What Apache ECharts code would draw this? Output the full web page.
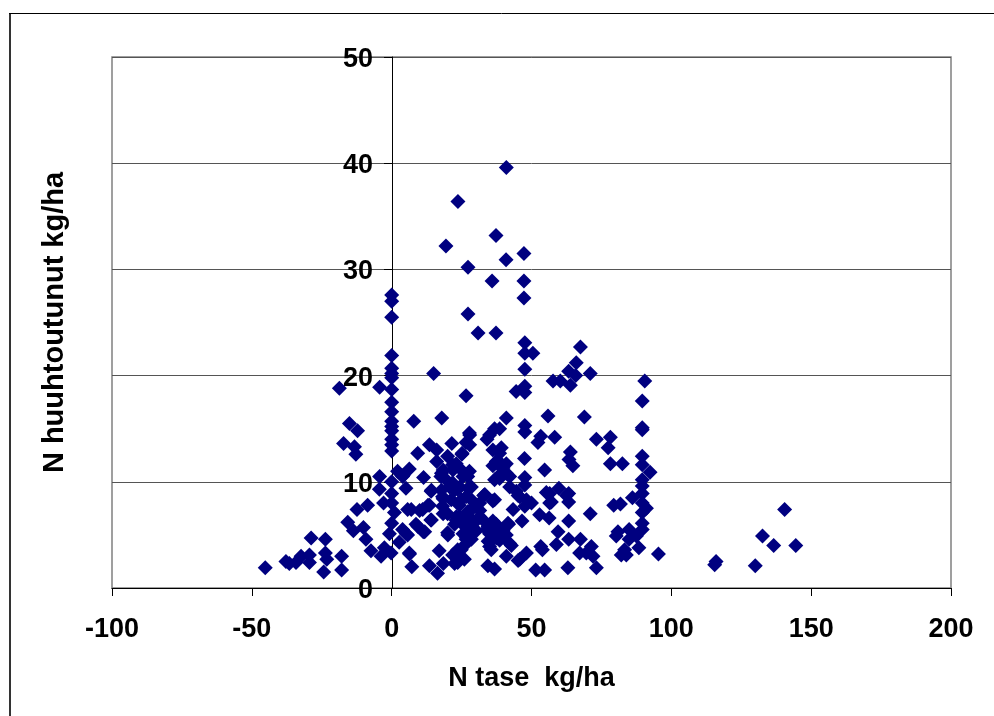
<!DOCTYPE html>
<html>
<head>
<meta charset="utf-8">
<style>html,body{margin:0;padding:0;background:#fff}#c{width:994px;height:716px}</style>
<script src="https://cdn.jsdelivr.net/npm/echarts@6/dist/echarts.min.js"></script>
</head>
<body>
<div id="c"></div>
<script>
const xTitle = 'N tase  kg/ha';
const yTitle = 'N huuhtoutunut kg/ha';
const pointColor = '#000080';
// [N tase, N huuhtoutunut]
const negativeBalance = [[-45.2,1.9],[-37.8,2.5],[-36.6,2.3],[-34.2,2.4],[-32.4,3],[-29.4,3.1],[-29.4,2.4],[-28.8,4.7],[-24.3,1.5],[-23.7,4.6],[-23.7,3.3],[-23.2,2.7],[-18.7,18.8],[-17.9,3],[-17.9,1.7],[-17.2,13.6],[-15.7,6.2],[-15.1,15.5],[-13.7,5.4],[-13.3,13.3],[-12.8,12.6],[-12.4,7.4],[-12.2,14.8],[-10.1,5.7],[-9.2,4.6],[-8.6,7.8],[-7.4,3.5],[-4.4,9.3],[-4.3,18.9],[-4.3,10.5],[-3.8,3],[-2.9,8],[-2.6,3.8],[-0.8,5.1],[-0.2,3.3]];
const zeroBalance = [[0,27.6],[0,27],[0,25.5],[0,21.9],[0,20.7],[0,20.2],[0,19.8],[0,18.7],[0,17.5],[0,16.6],[0,15.7],[0,15.2],[0,14.8],[0,14],[0,13.5],[0,12.9],[0,10],[0,8.9],[0,8],[0,6.1]];
const lowBalance = [[1,7.1],[2.1,11],[2.7,4.3],[3.9,10.5],[3.9,5.5],[4.1,10.6],[5.1,9.4],[5.2,5.1],[5.7,7.4],[5.7,5],[6.3,11.2],[6.3,3.3],[6.4,3.2],[7,7.4],[7.2,2],[7.9,15.7],[8.7,6],[9.3,12.7],[9.4,5.8],[10,7.3],[11.1,7.4],[11.3,5.3],[11.4,10.4],[11.8,5.3],[13,7.8],[13.5,13.5],[13.5,7.8],[13.5,2.1],[14,6.4],[14.1,9.1],[14.2,9.2],[14.2,6.4],[15,20.2],[16.1,13],[16.1,11.9],[16.4,1.4],[17,3.5],[17.6,10.5],[17.8,10.8],[17.8,9.2],[17.9,16],[18.2,8.6],[18.2,7.7],[18.4,7],[18.4,11.1],[18.4,8.4],[18.5,2.3],[19.4,32.2],[19.5,10.2],[20,12.4],[20,7],[20,5.2],[20.1,5],[20.7,9.5],[21.3,8.3],[21.5,13.6],[21.8,11.6],[21.8,9.9],[21.8,3.1],[21.9,11.1],[22.5,9.2],[22.5,6],[22.5,2.3],[23,6.4],[23.1,11.7],[23.1,6.7],[23.6,9.3],[23.6,3.6],[23.6,2.4],[23.7,36.4],[23.7,3.2],[24.2,11.3],[24.2,7.8],[24.3,9.5],[24.3,6.7],[24.9,8.3],[24.9,3.6],[25.1,12.6],[25.2,12.7],[25.4,6],[25.5,10.5],[25.5,5.1],[26,2.7],[26.1,6],[26.6,18.1],[26.6,13.7],[26.6,8.6],[26.6,4.6],[26.7,4.8],[26.7,4.2],[27.2,10.5],[27.3,30.2],[27.3,25.8],[27.3,9.4],[27.3,7.2],[27.8,14.6],[27.8,11],[27.8,7.2],[27.8,5.5],[27.9,14.4],[27.9,13.5],[28.5,9.5],[28.5,8.3],[28.5,6.5],[28.5,4.6],[29.7,7.7],[29.7,6.2]];
const midBalance = [[30.3,5.4],[30.9,24],[31.5,8],[31.5,7.3],[31.5,6.7],[32.7,6.4],[32.9,8.7],[33.3,8.8],[33.9,5.5],[34.1,14],[34.4,2.1],[34.5,5.8],[34.5,4.4],[35,14.4],[35,5.1],[35,4.3],[35,3.9],[35.6,3.6],[35.9,28.9],[36.2,13],[36.2,11.5],[36.2,8.2],[36.2,6.3],[36.8,15],[36.8,10.2],[36.8,8.3],[36.8,1.8],[37.3,33.2],[37.3,24],[37.4,11.9],[37.4,6],[37.4,5.3],[37.4,4.7],[38,12],[38.6,15],[38.6,12.7],[38.6,11.5],[38.6,10.3],[38.6,4.5],[39.2,13.2],[39.2,10.8],[39.8,11.3],[39.8,5.4],[39.8,5.2],[41,39.6],[40.9,30.9],[41,16],[41,11.7],[41,10.8],[41,5],[41,3],[41.6,6.1],[41.8,6],[42.2,10.5],[42.2,9.5],[42.2,4.2],[42.8,4],[43.4,7.4],[44.5,18.5],[44.6,9.1],[45.2,8.7],[45.2,2.6],[45.8,8.6],[45.8,2.7],[46.6,6.3],[47.3,31.5],[47.3,28.9],[47.3,27.3],[47.6,23.1],[47.6,22.1],[47.6,20.6],[47.6,19],[47.6,18.4],[47.6,15.3],[47.6,14.7],[47.5,12.2],[47.6,10.4],[47.6,9.7],[47.6,7.7],[48.2,8.3],[48.2,3.3],[50,8],[50.5,22.1],[51.5,1.7],[52.3,13.7],[52.9,6.9],[53.3,14.3],[53.3,3.9],[53.9,3.6],[54.7,11.1],[54.7,1.7],[55.3,9],[55.9,16.2],[56.3,6.6],[56.5,8.9],[56.5,8],[57.1,8.1],[57.7,19.5],[58.3,14.2],[58.9,4.1],[59.5,5.3],[59.8,9.4]];
const highBalance = [[60.3,19.5],[62.5,8.7],[63,1.9],[63.3,20.4],[63.3,8.9],[63.3,8.1],[63.3,6.3],[63.3,4.6],[63.4,12.1],[63.9,19.1],[63.9,12.8],[64.8,11.5],[65.8,20],[66,21.2],[67.2,3.3],[67.5,22.7],[67.5,4.6],[68.9,16.1],[69.6,3.3],[71,20.2],[71,7],[71.4,3.9],[72,3],[73.2,14],[73.2,1.9],[77.4,13.2],[78.2,14.2],[78.2,11.7],[79.4,7.8],[80.3,4.9],[80.9,5.3],[81.8,7.9],[82.1,3.1],[82.5,11.7],[83.3,3.6],[83.9,3.1],[84.9,5.5],[84.9,4.6],[86.1,8.5],[87.5,4.9],[88.4,3.8],[89.6,17.6],[89.6,15.1],[89.6,14.9],[89.6,12.4],[89.6,11.6],[89.6,10.2],[89.6,9.6],[89.6,8.9],[89.6,8],[89.6,7.1],[89.6,6.1],[89.6,5.5],[90.5,19.5],[91.1,7.5],[92.4,10.9],[95.4,3.2],[115.5,2.2],[116,2.5],[130,2.1],[132.6,4.9],[136.6,4],[140.5,7.4],[144.5,4]];

const chart = echarts.init(document.getElementById('c'), null, {renderer: 'canvas'});
const font = {fontFamily: '"Liberation Sans", Arial, sans-serif', fontWeight: 'bold', fontSize: 27, color: '#000'};
chart.setOption({
  animation: false,
  backgroundColor: '#fff',
  grid: {left: 112, right: 43, top: 57, bottom: 128, show: true, borderColor: '#808080', borderWidth: 1.5, backgroundColor: 'transparent', outerBoundsMode: 'none', containLabel: false},
  graphic: [
    {type: 'line', shape: {x1: 10, y1: 14, x2: 10, y2: 716}, style: {stroke: '#333', lineWidth: 2}},
    {type: 'line', shape: {x1: 9, y1: 13.5, x2: 994, y2: 13.5}, style: {stroke: '#000', lineWidth: 1}}
  ],
  xAxis: {
    type: 'value', min: -100, max: 200, interval: 50,
    name: xTitle, nameLocation: 'middle', nameGap: 77, nameTextStyle: font,
    axisLine: {show: true, onZero: false, lineStyle: {color: '#000', width: 1}},
    axisTick: {show: true, length: 8, lineStyle: {color: '#000', width: 1}},
    axisLabel: Object.assign({margin: 28}, font),
    splitLine: {show: false}
  },
  yAxis: {
    type: 'value', min: 0, max: 50, interval: 10, offset: -280,
    name: yTitle, nameLocation: 'middle', nameGap: 323, nameTextStyle: Object.assign({}, font, {fontSize: 29}),
    axisLine: {show: true, onZero: false, lineStyle: {color: '#000', width: 1}},
    axisTick: {show: true, length: 8, lineStyle: {color: '#000', width: 1}},
    axisLabel: Object.assign({margin: 19, verticalAlign: 'top', lineHeight: 5, padding: [0, 0, 0, 0]}, font),
    splitLine: {show: true, lineStyle: {color: '#555', width: 1}}
  },
  series: [{
    type: 'scatter', symbol: 'diamond', symbolSize: 15,
    itemStyle: {color: pointColor, opacity: 1},
    data: [].concat(negativeBalance, zeroBalance, lowBalance, midBalance, highBalance)
  }]
});
</script>
</body>
</html>
